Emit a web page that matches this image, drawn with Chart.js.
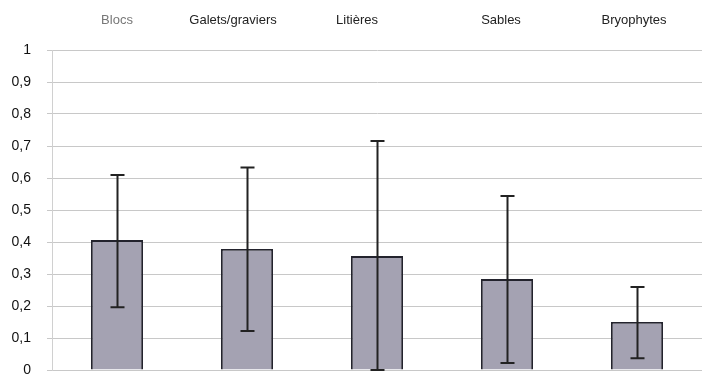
<!DOCTYPE html>
<html>
<head>
<meta charset="utf-8">
<script src="https://cdn.jsdelivr.net/npm/chart.js@4"></script>
<style>
  html, body { margin: 0; padding: 0; background: #fff; }
  #wrap { position: relative; width: 711px; height: 378px; }
</style>
</head>
<body>
<div id="wrap"><canvas id="chart"></canvas></div>
<script>
// values
const categories = ['Blocs', 'Galets/graviers', 'Litières', 'Sables', 'Bryophytes'];
const means = [0.406, 0.378, 0.356, 0.284, 0.15];
const errLow = [0.196, 0.122, 0.0, 0.022, 0.037];
const errHigh = [0.609, 0.633, 0.716, 0.544, 0.259];
const yTicks = [0, 0.1, 0.2, 0.3, 0.4, 0.5, 0.6, 0.7, 0.8, 0.9, 1];

// the header labels are not quite centred over their bars in the original
const labelShift = [0, -14, -20, -6, -3];

const errorBars = {
  id: 'errorBars',
  afterDatasetsDraw(chart) {
    const ctx = chart.ctx;
    const x = chart.scales.x, y = chart.scales.y;
    ctx.save();
    ctx.strokeStyle = '#222';
    ctx.lineWidth = 2;
    categories.forEach((c, i) => {
      const px = Math.round(x.getPixelForValue(i)) + 0.5;
      const top = y.getPixelForValue(errHigh[i]);
      const bot = y.getPixelForValue(errLow[i]);
      ctx.beginPath();
      ctx.moveTo(px, top); ctx.lineTo(px, bot);
      ctx.moveTo(px - 7, top); ctx.lineTo(px + 7, top);
      ctx.moveTo(px - 7, bot); ctx.lineTo(px + 7, bot);
      ctx.stroke();
    });
    ctx.restore();
  }
};

const headerLabels = {
  id: 'headerLabels',
  afterDraw(chart) {
    const ctx = chart.ctx;
    const x = chart.scales.x;
    ctx.save();
    ctx.font = '13px "Liberation Sans", Arial, sans-serif';
    ctx.textAlign = 'center';
    ctx.textBaseline = 'middle';
    categories.forEach((c, i) => {
      ctx.fillStyle = i === 0 ? '#777' : '#222';
      ctx.fillText(c, x.getPixelForValue(i) + labelShift[i], 20);
    });
    ctx.restore();
  }
};

new Chart(document.getElementById('chart'), {
  type: 'bar',
  data: {
    labels: categories,
    datasets: [{
      data: means,
      backgroundColor: '#a4a2b2',
      borderColor: '#23232d',
      borderWidth: 1.8,
      barPercentage: 0.8,
      categoryPercentage: 0.5
    }]
  },
  options: {
    responsive: true,
    maintainAspectRatio: false,
    animation: false,
    layout: { padding: { left: 0, right: 9, top: 0, bottom: 8 } },
    plugins: { legend: { display: false }, tooltip: { enabled: false } },
    scales: {
      x: {
        position: 'top',
        grid: { display: false },
        border: { display: false },
        ticks: { display: false },
        afterFit(scale) { scale.height = 50; }
      },
      y: {
        min: 0, max: 1,
        afterBuildTicks(scale) { scale.ticks = yTicks.map(v => ({ value: v })); },
        grid: { color: '#c8c8c8', lineWidth: 1, tickLength: 5 },
        border: { display: true, color: '#d0d0d0' },
        ticks: {
          color: '#111',
          font: { family: 'Liberation Sans, Arial, sans-serif', size: 14 },
          padding: 16,
          callback: (v) => String(v).replace('.', ',')
        },
        afterFit(scale) {
          scale.width = 52;
          // the big label padding would otherwise eat the bottom of the plot
          scale.paddingTop = 0;
          scale.paddingBottom = 0;
        }
      }
    }
  },
  plugins: [errorBars, headerLabels]
});
</script>
</body>
</html>
